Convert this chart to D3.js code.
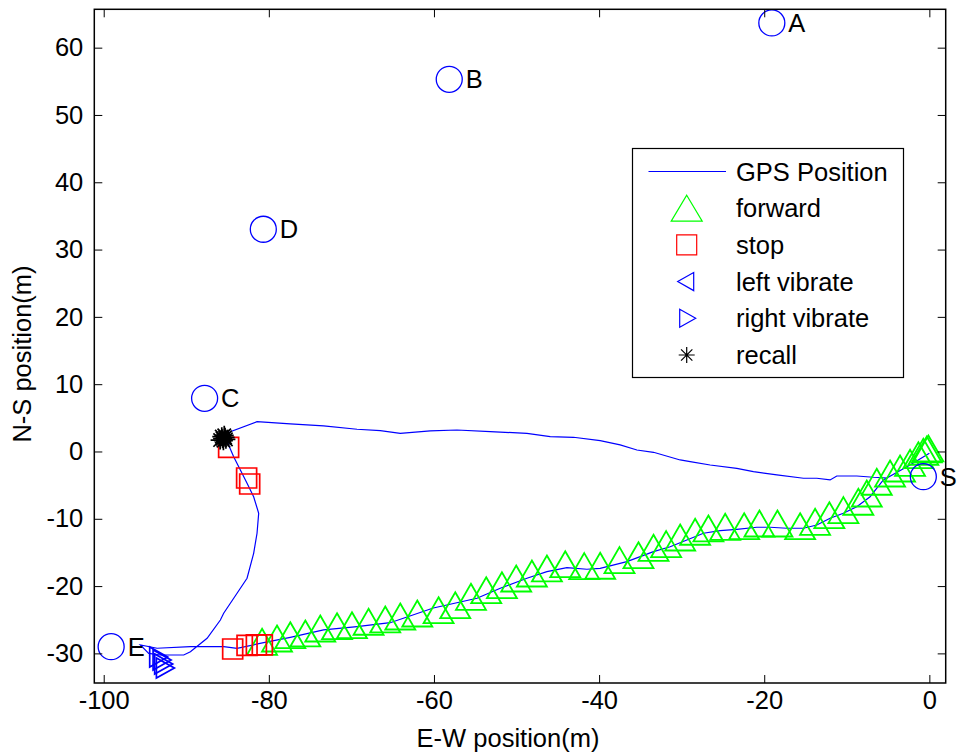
<!DOCTYPE html>
<html>
<head>
<meta charset="utf-8">
<script src="https://cdn.jsdelivr.net/npm/d3@7/dist/d3.min.js"></script>
<style>
  html, body { margin: 0; padding: 0; background: #fff; }
  svg { display: block; font-family: "Liberation Sans", Arial, Helvetica, sans-serif; }
</style>
</head>
<body>
<svg id="chart" width="961" height="755"></svg>
<script>
// GPS track (E-W, N-S in metres)
const gpsX = [0.00,-2.34,-5.57,-7.18,-8.79,-10.41,-12.02,-13.63,-15.25,-17.26,-19.29,-20.90,-23.32,-25.34,-27.36,-29.37,-31.39,-33.41,-36.63,-39.87,-41.48,-43.90,-46.32,-48.74,-51.97,-54.79,-60.08,-65.30,-69.32,-73.37,-77.40,-80.63,-83.85,-85.47,-89.50,-93.54,-95.56,-94.55,-93.14,-90.31,-89.50,-87.48,-85.87,-85.47,-83.85,-82.64,-81.84,-81.43,-81.23,-81.84,-82.64,-83.45,-84.26,-84.87,-85.06,-84.66,-81.43,-77.40,-73.37,-69.32,-66.50,-64.08,-60.45,-57.22,-53.18,-48.74,-45.92,-43.10,-39.87,-37.45,-35.42,-33.41,-30.18,-28.97,-26.55,-23.32,-21.31,-18.47,-15.25,-13.63,-12.02,-11.21,-8.79,-6.78,-5.01];
const gpsY = [-0.27,-2.01,-4.23,-6.72,-8.20,-9.18,-9.93,-10.92,-11.41,-11.41,-11.26,-11.26,-11.56,-11.77,-12.15,-13.15,-14.15,-14.89,-16.37,-17.36,-17.50,-17.27,-17.86,-18.84,-20.33,-21.81,-23.25,-25.44,-26.03,-26.52,-27.61,-28.41,-29.24,-29.00,-29.00,-29.24,-28.75,-29.99,-30.24,-30.24,-29.75,-27.76,-25.04,-24.04,-21.07,-18.84,-15.13,-12.15,-9.18,-6.72,-4.73,-2.75,-0.77,0.97,2.20,2.94,4.43,4.09,3.79,3.30,3.09,2.70,3.05,3.19,2.94,2.70,2.20,2.11,1.60,0.97,0.22,-0.12,-1.26,-1.52,-2.01,-2.50,-3.00,-3.49,-3.98,-3.98,-4.23,-3.64,-3.64,-3.83,-3.94];

// "forward" events
const fwdX = [-80.82,-79.01,-77.40,-75.58,-73.77,-71.74,-69.93,-67.92,-65.90,-64.08,-62.02,-59.44,-57.42,-55.52,-53.67,-51.77,-50.04,-48.14,-46.32,-44.10,-41.80,-39.87,-37.53,-35.23,-33.41,-31.88,-30.18,-28.37,-26.76,-24.73,-22.43,-20.58,-18.40,-15.65,-13.84,-12.11,-10.41,-8.60,-7.58,-6.37,-4.76,-3.55,-2.34,-1.33,-0.73,-0.31,-0.12];
const fwdY = [-28.28,-27.79,-27.30,-27.04,-26.30,-25.96,-25.81,-25.30,-24.96,-24.52,-24.07,-23.58,-22.84,-21.59,-20.61,-19.87,-18.87,-18.13,-17.38,-16.75,-17.04,-16.98,-16.15,-15.41,-14.31,-13.77,-12.78,-11.93,-11.44,-11.19,-11.10,-10.70,-10.70,-11.10,-10.45,-9.47,-8.72,-7.47,-6.24,-4.50,-3.27,-2.53,-1.68,-0.55,-0.04,0.30,0.45];

// "stop" events
const stopX = [-84.87,-82.69,-82.32,-84.38,-82.64,-81.51,-80.79];
const stopY = [0.62,-3.94,-4.83,-29.35,-28.80,-28.75,-28.75];

// "right vibrate" events
const rightX = [-93.34,-92.93,-92.74,-92.53];
const rightY = [-30.54,-30.98,-31.58,-32.17];

// "recall" events
const recallX = [-85.6,-85.3,-85.5,-85.2,-85.7,-85.4,-85.9];
const recallY = [1.9,2.1,1.6,1.8,2.2,2.4,1.7];

// Waypoints
const wpNames = ["A","B","C","D","E","S"];
const wpX = [-19.08,-58.15,-87.78,-80.67,-99.10,-0.73];
const wpY = [63.67,55.30,7.90,33.02,-29.00,-3.74];

// Axes
const xTicks = [-100,-80,-60,-40,-20,0];
const yTicks = [-30,-20,-10,0,10,20,30,40,50,60];
const xDomain = [-101.14, 1.98];
const yDomain = [-34.4, 65.7];

const legendItems = ["GPS Position","forward","stop","left vibrate","right vibrate","recall"];

const svg = d3.select("#chart");
const plot = { left: 94.3, right: 945.7, top: 9.3, bottom: 683 };
const x = d3.scaleLinear().domain(xDomain).range([plot.left, plot.right]);
const y = d3.scaleLinear().domain(yDomain).range([plot.bottom, plot.top]);

const FONT = 25.5;
const BLUE = "#0000ff", GREEN = "#00ff00", RED = "#ff0000";

// marker path generators (centred at 0,0)
const triUp = (w, h) => `M0,${-h/2}L${w/2},${h/2}L${-w/2},${h/2}Z`;
const triRight = (w, h) => `M${w/2},0L${-w/2},${-h/2}L${-w/2},${h/2}Z`;
const triLeft = (w, h) => `M${-w/2},0L${w/2},${-h/2}L${w/2},${h/2}Z`;
const square = s => `M${-s/2},${-s/2}h${s}v${s}h${-s}Z`;
const star = r => {
  const d = r * Math.SQRT1_2;
  return `M${-r},0H${r}M0,${-r}V${r}M${-d},${-d}L${d},${d}M${-d},${d}L${d},${-d}`;
};

const clipId = "plotclip";
svg.append("clipPath").attr("id", clipId).append("rect")
  .attr("x", plot.left).attr("y", plot.top)
  .attr("width", plot.right - plot.left).attr("height", plot.bottom - plot.top);

// GPS line
const gps = gpsX.map((v, i) => [v, gpsY[i]]);
svg.append("path")
  .datum(gps)
  .attr("clip-path", `url(#${clipId})`)
  .attr("fill", "none").attr("stroke", BLUE).attr("stroke-width", 1.2)
  .attr("d", d3.line().x(d => x(d[0])).y(d => y(d[1])));

// forward markers
svg.append("g").selectAll("path")
  .data(fwdX.map((v, i) => [v, fwdY[i]]))
  .join("path")
  .attr("transform", d => `translate(${x(d[0])},${y(d[1])})`)
  .attr("d", triUp(30, 26))
  .attr("fill", "none").attr("stroke", GREEN).attr("stroke-width", 1.8);

// stop markers
svg.append("g").selectAll("path")
  .data(stopX.map((v, i) => [v, stopY[i]]))
  .join("path")
  .attr("transform", d => `translate(${x(d[0])},${y(d[1])})`)
  .attr("d", square(20))
  .attr("fill", "none").attr("stroke", RED).attr("stroke-width", 1.7);

// right vibrate markers
svg.append("g").selectAll("path")
  .data(rightX.map((v, i) => [v, rightY[i]]))
  .join("path")
  .attr("transform", d => `translate(${x(d[0])},${y(d[1])})`)
  .attr("d", triRight(18, 20))
  .attr("fill", "none").attr("stroke", BLUE).attr("stroke-width", 1.7);

// recall markers
svg.append("g").selectAll("path")
  .data(recallX.map((v, i) => [v, recallY[i]]))
  .join("path")
  .attr("transform", d => `translate(${x(d[0])},${y(d[1])})`)
  .attr("d", star(9.5))
  .attr("fill", "none").attr("stroke", "#000").attr("stroke-width", 1.7);

// waypoints
const wp = svg.append("g");
wpNames.forEach((n, i) => {
  wp.append("circle")
    .attr("cx", x(wpX[i])).attr("cy", y(wpY[i])).attr("r", 13)
    .attr("fill", "none").attr("stroke", BLUE).attr("stroke-width", 1.3);
  wp.append("text")
    .attr("x", x(wpX[i] + 2)).attr("y", y(wpY[i]) + 9)
    .attr("font-size", FONT).attr("fill", "#000")
    .text(n);
});

// axes box with inward ticks on all sides
const TICK = 8;
const axB = svg.append("g").attr("transform", `translate(0,${plot.bottom})`)
  .call(d3.axisBottom(x).tickValues(xTicks).tickSizeInner(-TICK).tickSizeOuter(0).tickPadding(8).tickFormat(d3.format("d")));
const axT = svg.append("g").attr("transform", `translate(0,${plot.top})`)
  .call(d3.axisTop(x).tickValues(xTicks).tickSizeInner(-TICK).tickSizeOuter(0).tickFormat(""));
const axL = svg.append("g").attr("transform", `translate(${plot.left},0)`)
  .call(d3.axisLeft(y).tickValues(yTicks).tickSizeInner(-TICK).tickSizeOuter(0).tickPadding(11).tickFormat(d3.format("d")));
const axR = svg.append("g").attr("transform", `translate(${plot.right},0)`)
  .call(d3.axisRight(y).tickValues(yTicks).tickSizeInner(-TICK).tickSizeOuter(0).tickFormat(""));
[axB, axT, axL, axR].forEach(a => {
  a.select(".domain").remove();
  a.selectAll("line").attr("stroke", "#000").attr("stroke-width", 1);
  a.selectAll("text").attr("font-size", FONT).attr("fill", "#000")
    .attr("font-family", "'Liberation Sans', Arial, sans-serif")
    .text(function () { return this.textContent.replace("\u2212", "-"); });
});
svg.append("rect")
  .attr("x", plot.left).attr("y", plot.top)
  .attr("width", plot.right - plot.left).attr("height", plot.bottom - plot.top)
  .attr("fill", "none").attr("stroke", "#000").attr("stroke-width", 1.5);

// axis titles
svg.append("text")
  .attr("x", 508).attr("y", 747)
  .attr("text-anchor", "middle").attr("font-size", FONT)
  .text("E-W position(m)");
svg.append("text")
  .attr("transform", `translate(31,354) rotate(-90)`)
  .attr("text-anchor", "middle").attr("font-size", FONT)
  .text("N-S position(m)");

// legend
const lg = svg.append("g");
const lgBox = { x: 632.5, y: 148.5, w: 271, h: 229 };
lg.append("rect")
  .attr("x", lgBox.x).attr("y", lgBox.y).attr("width", lgBox.w).attr("height", lgBox.h)
  .attr("fill", "#fff").attr("stroke", "#000").attr("stroke-width", 1.2);
const rowY = i => 171.5 + i * 36.7;
const mx = 686.7;
legendItems.forEach((label, i) => {
  lg.append("text")
    .attr("x", 736).attr("y", rowY(i) + 9)
    .attr("font-size", FONT).attr("fill", "#000")
    .text(label);
});
lg.append("line")
  .attr("x1", 648.5).attr("x2", 726).attr("y1", rowY(0)).attr("y2", rowY(0))
  .attr("stroke", BLUE).attr("stroke-width", 1.2);
lg.append("path").attr("transform", `translate(${mx},${rowY(1)})`)
  .attr("d", triUp(31, 26)).attr("fill", "none").attr("stroke", GREEN).attr("stroke-width", 1.2);
lg.append("path").attr("transform", `translate(${mx},${rowY(2)})`)
  .attr("d", square(20)).attr("fill", "none").attr("stroke", RED).attr("stroke-width", 1.2);
lg.append("path").attr("transform", `translate(${mx - 1},${rowY(3)})`)
  .attr("d", triLeft(16, 18)).attr("fill", "none").attr("stroke", BLUE).attr("stroke-width", 1.2);
lg.append("path").attr("transform", `translate(${mx + 1},${rowY(4)})`)
  .attr("d", triRight(16, 18)).attr("fill", "none").attr("stroke", BLUE).attr("stroke-width", 1.2);
lg.append("path").attr("transform", `translate(${mx},${rowY(5)})`)
  .attr("d", star(8)).attr("fill", "none").attr("stroke", "#000").attr("stroke-width", 1.2);
</script>
</body>
</html>
